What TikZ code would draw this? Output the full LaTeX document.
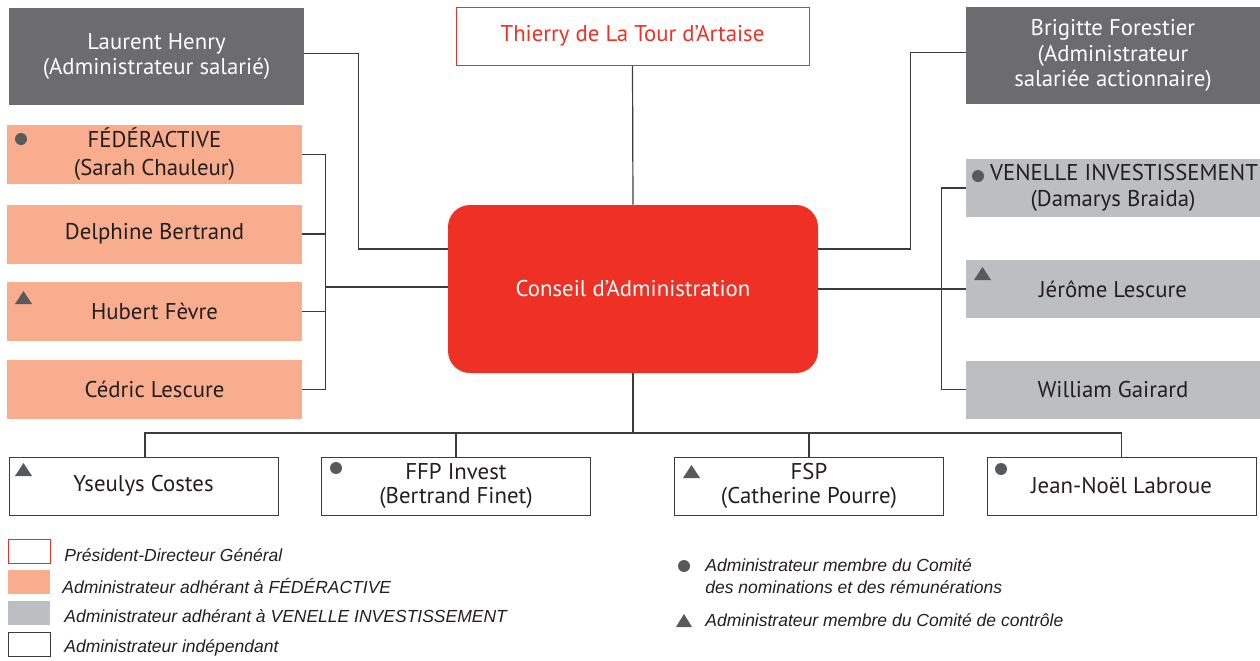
\documentclass[tikz,border=0pt]{standalone}
\usepackage{fontspec}
\setmainfont{PT Sans}
\newfontfamily\legendfont{Liberation Sans}
\usetikzlibrary{calc}
\definecolor{cdared}{HTML}{EE3124}
\definecolor{salmon}{HTML}{F8AD8F}
\definecolor{venellegray}{HTML}{BDBEC2}
\definecolor{salariegray}{HTML}{6B6B70}
\definecolor{linkgray}{HTML}{3C3C3C}
\definecolor{markgray}{HTML}{58595B}
\definecolor{ink}{HTML}{231F20}

\begin{document}
\begin{tikzpicture}[x=0.5pt,y=-0.5pt,
  box/.style={inner sep=0pt, align=center, text=ink,
    font=\fontsize{11.4}{12.8}\selectfont},
  fedebox/.style={box, fill=salmon, minimum width=147.5pt, minimum height=29.5pt},
  venbox/.style={box, fill=venellegray, minimum width=147pt, minimum height=29pt},
  salbox/.style={box, fill=salariegray, text=white, minimum width=147.5pt, minimum height=48.5pt},
  indbox/.style={box, draw=linkgray, line width=0.5pt, minimum width=134.5pt, minimum height=29pt},
  pdgbox/.style={box, draw=cdared, line width=0.5pt, text=cdared, minimum width=176.5pt, minimum height=29pt},
  legbox/.style={inner sep=0pt, minimum width=21pt, minimum height=12pt},
  legtext/.style={anchor=west, inner sep=0pt, text=ink, font=\legendfont\itshape\fontsize{8.75}{11}\selectfont},
  link/.style={draw=linkgray, line width=0.6pt},
  dot/.style={fill=markgray},
]
\useasboundingbox (0,0) rectangle (1260,660);

% centre
\node[box, fill=cdared, text=white, rounded corners=11pt, minimum width=185pt, minimum height=84pt]
  (council) at (633,289) {Conseil d'Administration};
\node[pdgbox] (thierry) at (632.5,36) {Thierry de La Tour d'Artaise};

% salaries
\node[salbox] (laurent) at (156.5,56.5) {Laurent Henry\\(Administrateur salarié)};
\node[salbox, minimum width=147pt] (brigitte) at (1113,55.5) {Brigitte Forestier\\(Administrateur\\salariée actionnaire)};

% federactive
\node[fedebox, font=\fontsize{11.4}{14}\selectfont] (fede) at (154.5,154.5) {FÉDÉRACTIVE\\(Sarah Chauleur)};
\node[fedebox] (delphine) at (154.5,234) {Delphine Bertrand};
\node[fedebox] (hubert) at (154.5,311.5) {Hubert Fèvre};
\node[fedebox] (cedric) at (154.5,389.5) {Cédric Lescure};

% venelle
\node[venbox] (venelle) at (1113,188) {\hspace*{11pt}VENELLE INVESTISSEMENT\\(Damarys Braida)};
\node[venbox] (jerome) at (1113,289) {Jérôme Lescure};
\node[venbox] (william) at (1113,389.5) {William Gairard};

% independants
\node[indbox] (yseulys) at (143.5,486) {Yseulys Costes};
\node[indbox, font=\fontsize{11.4}{11.8}\selectfont] (ffp) at (456,486) {FFP Invest\\(Bertrand Finet)};
\node[indbox, font=\fontsize{11.4}{11.8}\selectfont] (fsp) at (809,486) {FSP\\(Catherine Pourre)};
\node[indbox] (labroue) at (1121.5,486) {Jean-Noël Labroue};

% liens
\draw[link] (thierry.south) -- (council.north);
\draw[link] (laurent.east) ++(0,-3) -- ++(54,0) |- (council.west |- 0,249);
\draw[link] (brigitte.west) ++(0,-3) -- ++(-55,0) |- (council.east |- 0,249);
\draw[link] (fede.east) -- ++(23,0) coordinate (lbus) |- (cedric.east);
\draw[link] (delphine.east) -- (lbus |- delphine.east);
\draw[link] (hubert.east) -- (lbus |- hubert.east);
\draw[link] (lbus |- 0,287) -- (council.west |- 0,287);
\draw[link] (venelle.west) -- ++(-24,0) coordinate (rbus) |- (william.west);
\draw[link] (council.east) -- (jerome.west);
\draw[link] (council.south) -- (council.south |- 0,433) coordinate (bbus);
\draw[link] (yseulys.north) ++(1.5,0) |- (bbus) -| (labroue.north);
\draw[link] (ffp.north) -- (ffp.north |- bbus);
\draw[link] (fsp.north) -- (fsp.north |- bbus);

% comites
\fill[dot] (21,139) circle (3pt);
\fill[dot] (15,304) -- (32,304) -- (23.5,291) -- cycle;
\fill[dot] (978,176) circle (3pt);
\fill[dot] (974,280) -- (991,280) -- (982.5,267) -- cycle;
\fill[dot] (15,476) -- (32,476) -- (23.5,463) -- cycle;
\fill[dot] (336,468) circle (3pt);
\fill[dot] (683,478) -- (700,478) -- (691.5,465) -- cycle;
\fill[dot] (1001,469) circle (3pt);

% legende
\node[legbox, draw=cdared, line width=0.5pt] (legpdg) at (29,551) {};
\node[legbox, fill=salmon] (legfede) at (29,581.5) {};
\node[legbox, fill=venellegray] (legven) at (29,612.5) {};
\node[legbox, draw=linkgray, line width=0.5pt] (legind) at (29,644) {};
\node[legtext] (tpdg) at (64,555) {Président-Directeur Général};
\node[legtext] (tfede) at (62,586) {Administrateur adhérant à FÉDÉRACTIVE};
\node[legtext] (tven) at (64,616) {Administrateur adhérant à VENELLE INVESTISSEMENT};
\node[legtext] (tind) at (64,648) {Administrateur indépendant};
\fill[dot] (684,566) circle (3pt);
\node[legtext, align=left] (tnom) at (705,576) {Administrateur membre du Comité\\des nominations et des rémunérations};
\fill[dot] (676,627) -- (692,627) -- (684,614) -- cycle;
\node[legtext] (tcontrole) at (705,620) {Administrateur membre du Comité de contrôle};
\end{tikzpicture}
\end{document}
